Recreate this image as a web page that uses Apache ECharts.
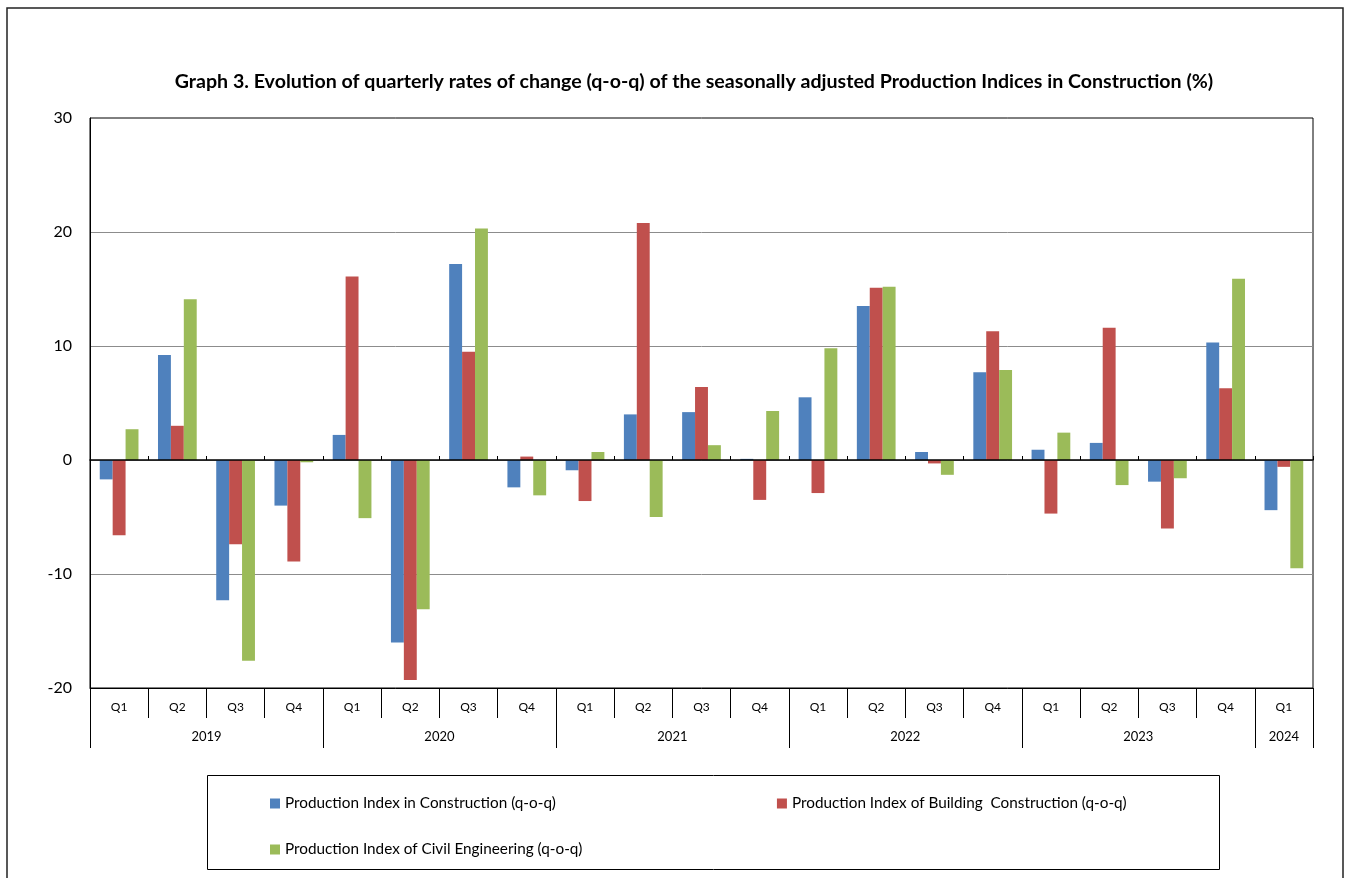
<!DOCTYPE html>
<html>
<head>
<meta charset="utf-8">
<script src="https://cdn.jsdelivr.net/npm/echarts@6/dist/echarts.min.js"></script>
<style>
html,body{margin:0;padding:0;background:#fff;}
#chart{width:1352px;height:878px;}
</style>
</head>
<body>
<div id="chart"></div>
<script>
const quarters = ['Q1','Q2','Q3','Q4','Q1','Q2','Q3','Q4','Q1','Q2','Q3','Q4','Q1','Q2','Q3','Q4','Q1','Q2','Q3','Q4','Q1'];
const years = ['2019','2020','2021','2022','2023','2024'];
const yearQuarterCounts = [4,4,4,4,4,1];
const seriesNames = [
  'Production Index in Construction (q-o-q)',
  'Production Index of Building  Construction (q-o-q)',
  'Production Index of Civil Engineering (q-o-q)'
];
const construction = [-1.7, 9.2, -12.3, -4.0, 2.2, -16.0, 17.2, -2.4, -0.9, 4.0, 4.2, 0.1, 5.5, 13.5, 0.7, 7.7, 0.9, 1.5, -1.9, 10.3, -4.4];
const building = [-6.6, 3.0, -7.4, -8.9, 16.1, -19.3, 9.5, 0.3, -3.6, 20.8, 6.4, -3.5, -2.9, 15.1, -0.3, 11.3, -4.7, 11.6, -6.0, 6.3, -0.6];
const civil = [2.7, 14.1, -17.6, -0.2, -5.1, -13.1, 20.3, -3.1, 0.7, -5.0, 1.3, 4.3, 9.8, 15.2, -1.3, 7.9, 2.4, -2.2, -1.6, 15.9, -9.5];
const yTicks = [-20, -10, 0, 10, 20, 30];

const colors = ['#4F81BD', '#C0504D', '#9BBB59'];
const FONT = 'Lato, "Liberation Sans", sans-serif';

// year boundaries and centers derived from quarter counts
const yearBounds = [0];
yearQuarterCounts.forEach(c => yearBounds.push(yearBounds[yearBounds.length - 1] + c));
const yearCenters = years.map((y, i) => (yearBounds[i] + yearBounds[i + 1]) / 2);

const chart = echarts.init(document.getElementById('chart'), null, {renderer: 'canvas'});

const barSeries = [construction, building, civil].map((d, i) => ({
  name: seriesNames[i],
  type: 'bar',
  xAxisIndex: 0,
  yAxisIndex: 0,
  data: d,
  barGap: '0%',
  barCategoryGap: '33.5%',
  itemStyle: {color: colors[i]},
  emphasis: {disabled: true}
}));

chart.setOption({
  animation: false,
  textStyle: {fontFamily: FONT},
  title: {
    text: 'Graph 3. Evolution of quarterly rates of change (q-o-q) of the seasonally adjusted Production Indices in Construction (%)',
    left: 689,
    top: 67,
    textAlign: 'center',
    textStyle: {fontFamily: FONT, fontSize: 19.6, fontWeight: 'bold', color: '#000'}
  },
  grid: {
    left: 90, right: 39, top: 118, bottom: 190,
    show: true, borderColor: '#000', borderWidth: 1, backgroundColor: 'transparent'
  },
  legend: [
    {
      data: [seriesNames[0], seriesNames[1]],
      left: 265, top: 791,
      icon: 'rect', itemWidth: 10, itemHeight: 10, itemGap: 221,
      textStyle: {fontFamily: FONT, fontSize: 15.3, color: '#000'},
      selectedMode: false
    },
    {
      data: [seriesNames[2]],
      left: 265, top: 837,
      icon: 'rect', itemWidth: 10, itemHeight: 10,
      textStyle: {fontFamily: FONT, fontSize: 15.3, color: '#000'},
      selectedMode: false
    }
  ],
  xAxis: [
    {
      type: 'category',
      data: quarters,
      position: 'bottom',
      axisLine: {onZero: false, lineStyle: {color: '#000', width: 1}},
      axisTick: {show: true, length: 30, lineStyle: {color: '#000', width: 1}},
      axisLabel: {fontFamily: FONT, fontSize: 12, color: '#000', margin: 13, interval: 0},
      splitLine: {show: false}
    },
    {
      type: 'value',
      min: 0, max: yearBounds[yearBounds.length - 1],
      position: 'bottom',
      axisLine: {show: false, onZero: false},
      splitLine: {show: false},
      axisTick: {show: true, length: 60, customValues: yearBounds, lineStyle: {color: '#000', width: 1}},
      axisLabel: {
        fontFamily: FONT, fontSize: 13, color: '#000', margin: 42,
        customValues: yearCenters,
        formatter: v => { const i = yearCenters.indexOf(v); return i >= 0 ? years[i] : ''; }
      }
    },
    {
      type: 'category',
      data: quarters,
      position: 'bottom',
      z: 10,
      axisLine: {onZero: true, lineStyle: {color: '#000', width: 1.5}},
      axisTick: {show: true, inside: true, length: 4, lineStyle: {color: '#000', width: 1}},
      axisLabel: {show: false},
      splitLine: {show: false}
    }
  ],
  yAxis: [{
    type: 'value',
    min: yTicks[0], max: yTicks[yTicks.length - 1], interval: 10,
    axisLine: {show: true, lineStyle: {color: '#000', width: 1}},
    axisTick: {show: false},
    axisLabel: {fontFamily: FONT, fontSize: 16, color: '#000', margin: 18},
    splitLine: {show: true, showMinLine: false, showMaxLine: false, lineStyle: {color: '#8c8c8c', width: 1}}
  }],
  graphic: [
    {type: 'rect', shape: {x: 7, y: 8, width: 1336, height: 900}, style: {fill: 'none', stroke: '#222', lineWidth: 1.5}, silent: true, z: -1},
    {type: 'rect', shape: {x: 207.5, y: 775.5, width: 1012, height: 94}, style: {fill: 'none', stroke: '#000', lineWidth: 1}, silent: true, z: -1}
  ],
  series: barSeries
});
</script>
</body>
</html>
